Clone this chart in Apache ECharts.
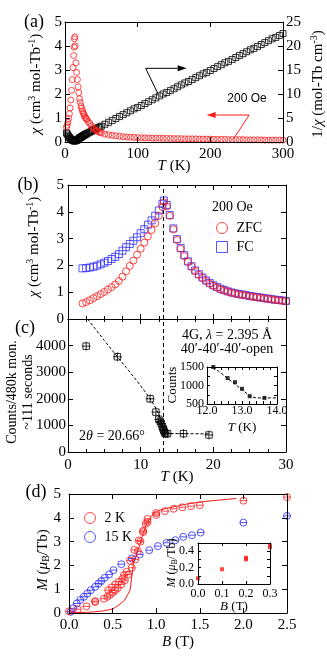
<!DOCTYPE html>
<html><head><meta charset="utf-8">
<script src="https://cdn.jsdelivr.net/npm/echarts@6/dist/echarts.min.js"></script>
<style>html,body{margin:0;padding:0;background:#fff}#c{width:327px;height:659px}</style>
</head><body><div id="c"></div>
<script>
// ---------- Panel (a): chi and 1/chi vs T ----------
const aTemp = [2,3,4,5,6,7,8,9,10,11,
  12,12.5,13,13.5,14,15,16,17,18,19,
  20,21,22,23,24,25,26,27,28,29,
  30,32,34,36,38,40,42,44,46,48,
  50,55,60,65,70,75,80,85,90,95,
  100,105,110,115,120,125,130,135,140,145,
  150,155,160,165,170,175,180,185,190,195,
  200,205,210,215,220,225,230,235,240,245,
  250,255,260,265,270,275,280,285,290,295,300];
const aChi = [0.62,0.70,0.82,0.98,1.18,1.42,1.75,2.15,2.6,3.1,
  3.6,3.95,4.3,4.38,4.0,3.3,2.9,2.6,2.3,2.05,
  1.8,1.65,1.5,1.4,1.3,1.22,1.15,1.08,1.02,0.98,
  0.93,0.85,0.77,0.68,0.6,0.55,0.5,0.46,0.43,0.4,
  0.38,0.33,0.3,0.28,0.26,0.24,0.22,0.21,0.2,0.19,
  0.18,0.18,0.17,0.17,0.16,0.16,0.16,0.15,0.15,0.15,
  0.14,0.14,0.14,0.13,0.13,0.13,0.13,0.12,0.12,0.12,
  0.12,0.11,0.11,0.11,0.11,0.1,0.1,0.1,0.1,0.1,
  0.09,0.09,0.09,0.09,0.09,0.08,0.08,0.08,0.08,0.08,0.08];
const aInvChi = [1.9,1.7,1.4,1.15,0.95,0.75,0.6,0.48,0.38,0.32,
  0.27,0.25,0.23,0.23,0.26,0.3,0.35,0.42,0.55,0.7,
  0.85,0.93,1.01,1.1,1.2,1.3,1.4,1.48,1.57,1.66,
  1.75,1.9,2.05,2.2,2.4,2.55,2.7,2.85,3.0,3.15,
  3.3,3.7,4.1,4.5,4.9,5.3,5.7,6.1,6.5,6.9,
  7.2,7.6,8.0,8.4,8.8,9.2,9.6,10.0,10.3,10.7,
  11.1,11.5,11.9,12.3,12.6,13.0,13.4,13.8,14.2,14.5,
  14.9,15.3,15.7,16.1,16.5,16.8,17.2,17.6,18.0,18.4,
  18.8,19.2,19.5,19.9,20.3,20.7,21.1,21.5,21.8,22.2,22.6];
// annotation arrows (data coordinates): black uses right axis, red uses left axis
const arrowRightT = [128.4, 111, 167.4];
const arrowRightV = [9.9, 15.35, 15.35];
const arrowLeftT = [231.5, 253.5, 194.9];
const arrowLeftV = [0.11, 1.125, 1.125];

// ---------- Panel (b): ZFC / FC ----------
const bTemp = [2.0,2.5,3.0,3.5,4.0,4.5,5.0,5.5,6.0,6.5,
  7.0,7.5,8.0,8.5,9.0,9.5,10.0,10.5,11.0,11.5,
  12.0,12.5,13.0,13.2,13.6,14.0,14.5,15.0,15.5,16.0,
  16.5,17.0,17.5,18.0,18.5,19.0,19.5,20.0,20.5,21.0,
  21.5,22.0,22.5,23.0,23.5,24.0,24.5,25.0,25.5,26.0,
  26.5,27.0,27.5,28.0,28.5,29.0,29.5,30.0];
const bZFC = [0.58,0.63,0.70,0.78,0.85,0.93,1.01,1.10,1.19,1.29,
  1.42,1.58,1.78,1.98,2.18,2.40,2.62,2.85,3.08,3.32,
  3.57,3.85,4.18,4.36,4.20,3.85,3.35,2.95,2.62,2.35,
  2.13,1.95,1.79,1.65,1.53,1.42,1.32,1.24,1.17,1.11,
  1.06,1.02,0.98,0.95,0.92,0.90,0.88,0.85,0.83,0.81,
  0.79,0.77,0.75,0.73,0.71,0.70,0.68,0.66];
const bFC = [1.89,1.90,1.92,1.95,1.99,2.04,2.10,2.16,2.24,2.32,
  2.42,2.55,2.68,2.80,2.92,3.05,3.20,3.35,3.52,3.68,
  3.85,4.05,4.30,4.42,4.25,3.88,3.38,2.98,2.65,2.38,
  2.15,1.97,1.81,1.67,1.55,1.44,1.34,1.26,1.19,1.13,
  1.08,1.03,0.99,0.96,0.93,0.91,0.89,0.86,0.84,0.82,
  0.80,0.78,0.76,0.74,0.72,0.71,0.69,0.67];
const tN = 13.1;

// ---------- Panel (c): neutron counts ----------
const cTemp = [2.5,6.8,11.3,12.1,12.5,12.7,12.85,13.0,13.1,13.2,13.3,13.45,13.7,15.9,19.4];
const cCounts = [3980,3580,2000,1500,1230,1150,1060,950,870,800,720,690,690,690,640];
const cFitT = [2.7,4,5,6,7,8,9,10,11,11.5,12,12.5,13,13.3,19.5];
const cFitC = [5000,4540,4190,3850,3510,3180,2840,2490,2120,1920,1690,1410,1010,700,680];
const ciTemp = [12.18,12.59,12.8,13.0,13.22,13.64];
const ciCounts = [1500,1200,1090,910,710,665];
const ciFitT = [12.18,13.25,13.4,14.0];
const ciFitC = [1500,700,665,665];

// ---------- Panel (d): M vs B ----------
const dUpB = [0.0,0.1,0.2,0.3,0.4,0.44,0.47,0.5,0.53,0.56,0.6,0.64,0.68,0.72,0.76,0.79,0.82,0.85,0.88,0.9,1.0,1.1,1.2,1.3,1.4,1.5,2.0,2.5];
const dUpM = [0.07,0.16,0.28,0.46,0.6,0.68,0.76,0.86,0.95,1.05,1.2,1.38,1.62,1.9,2.25,2.6,3.0,3.4,3.75,3.95,4.12,4.28,4.38,4.44,4.49,4.53,4.72,4.87];
const dDnB = [0.3,0.45,0.49,0.53,0.57,0.61,0.63,0.66,0.7,0.75,0.8,0.85,0.9,1.0];
const dDnM = [0.5,0.96,1.08,1.2,1.31,1.42,1.59,1.73,2.2,2.65,3.05,3.45,3.82,4.2];
const d15B = [0.02,0.05,0.09,0.13,0.17,0.21,0.25,0.3,0.34,0.37,0.41,0.46,0.51,0.6,0.72,0.81,0.92,1.02,1.12,1.22,1.31,1.41,1.51,2.0,2.5];
const d15M = [0.05,0.2,0.4,0.55,0.68,0.82,0.96,1.1,1.24,1.34,1.48,1.62,1.8,2.05,2.29,2.46,2.64,2.81,2.95,3.06,3.2,3.27,3.38,3.8,4.08];
const dFitB = [0,0.1,0.2,0.3,0.4,0.5,0.55,0.6,0.64,0.67,0.7,0.72,0.74,0.78,0.81,0.85,0.89,0.95,1.02,1.1,1.2,1.35,1.5,1.65,1.8,1.92];
const dFitM = [0,0.02,0.03,0.05,0.09,0.17,0.28,0.42,0.55,0.75,0.96,1.52,2.08,2.5,2.85,3.34,3.76,4.1,4.3,4.38,4.46,4.58,4.66,4.72,4.77,4.81];
const diB = [0.0,0.1,0.2,0.2,0.3,0.3];
const diM = [0.07,0.18,0.30,0.32,0.45,0.47];

// ---------- build ----------
const FONT = 'Liberation Serif';
const RED = '#ff1a1a', BLUE = '#2b2bff';
const zip = (a, b) => a.map((v, i) => [v, b[i]]);
const RICH = {i: {fontStyle: 'italic'}};
function ax(gi, pos, min, max, interval, o) {
  o = o || {};
  const a = {
    type: 'value', gridIndex: gi, position: pos, min: min, max: max, interval: interval,
    axisLine: {show: true, onZero: false, lineStyle: {color: '#000', width: 1}},
    axisTick: {show: true, inside: true, length: o.tl || 5, lineStyle: {color: '#000', width: 1}},
    minorTick: {show: !!o.minor, splitNumber: o.minor || 5, length: 3, lineStyle: {color: '#000', width: 1}},
    splitLine: {show: false},
    axisLabel: {show: !!o.labels, color: '#000', fontFamily: FONT, fontSize: o.fs || 15,
      margin: o.margin == null ? 5 : o.margin, formatter: o.fmt || (v => String(v))},
    nameMoveOverlap: false,
    z: 5
  };
  if (o.name) {
    a.name = o.name; a.nameLocation = 'middle'; a.nameGap = o.gap;
    a.nameTextStyle = {color: '#000', fontFamily: FONT, fontSize: o.nfs || 15, rich: RICH};
  }
  return a;
}
const f1 = v => v.toFixed(1);
const grids = [
  {left: 65, top: 22, width: 218, height: 120},
  {left: 68, top: 185, width: 218, height: 134},
  {left: 68, top: 319, width: 218, height: 133},
  {left: 69, top: 494, width: 218, height: 119},
  {left: 207, top: 367, width: 70, height: 37},
  {left: 198, top: 543, width: 72, height: 41}
].map(g => Object.assign({containLabel: false, outerBoundsMode: 'none'}, g));

const xAxis = [
  ax(0, 'bottom', 0, 300, 100, {labels: true, margin: 5, name: '{i|T} (K)', gap: 17}),
  ax(0, 'top', 0, 300, 100, {}),
  ax(1, 'bottom', 0, 30, 10, {minor: 4}),
  ax(1, 'top', 0, 30, 10, {minor: 4}),
  ax(2, 'bottom', 0, 30, 10, {labels: true, minor: 4, margin: 6, name: '{i|T} (K)', gap: 18}),
  ax(2, 'top', 0, 30, 10, {minor: 4}),
  ax(3, 'bottom', 0, 2.5, 0.5, {labels: true, fmt: f1, margin: 5, name: '{i|B} (T)', gap: 22}),
  ax(3, 'top', 0, 2.5, 0.5, {}),
  ax(4, 'bottom', 12, 14, 1, {labels: true, fmt: f1, fs: 12, margin: 1, tl: 3, minor: 5, name: '{i|T} (K)', gap: 17, nfs: 13}),
  ax(4, 'top', 12, 14, 1, {tl: 3, minor: 5}),
  ax(5, 'bottom', 0, 0.3, 0.1, {labels: true, fmt: f1, fs: 12, margin: 4, tl: 3, name: '{i|B} (T)', gap: 16, nfs: 13}),
  ax(5, 'top', 0, 0.3, 0.1, {tl: 3})
];
const yAxis = [
  ax(0, 'left', 0, 5, 1, {labels: true, margin: 3}),
  ax(0, 'right', 0, 25, 5, {labels: true, margin: 3}),
  ax(1, 'left', 0, 5, 1, {labels: true, margin: 4}),
  ax(1, 'right', 0, 5, 1, {}),
  ax(2, 'left', 0, 5000, 1000, {labels: true, margin: 2, fmt: v => (v === 5000 ? '' : String(v))}),
  ax(2, 'right', 0, 5000, 1000, {}),
  ax(3, 'left', 0, 5, 1, {labels: true, margin: 8}),
  ax(3, 'right', 0, 5, 1, {}),
  ax(4, 'left', 500, 1500, 500, {labels: true, fs: 12, margin: 3, tl: 3, minor: 2}),
  ax(4, 'right', 500, 1500, 500, {tl: 3, minor: 2}),
  ax(5, 'left', 0, 0.5, 0.2, {labels: true, fs: 12, margin: 4, tl: 3, fmt: f1, minor: 2}),
  ax(5, 'right', 0, 0.5, 0.2, {tl: 3, minor: 2})
];
const openStyle = c => ({color: 'rgba(0,0,0,0)', borderColor: c, borderWidth: 1});
const SQX = 'path://M2,2H12V12H2Z M7,0V14 M0,7H14';
const CBAR = 'path://M0,5A5,5,0,1,1,10,5A5,5,0,1,1,0,5Z M0,5H10';
const vline = {silent: true, symbol: 'none', label: {show: false},
  lineStyle: {color: '#000', type: [4, 3], width: 1}, data: [{xAxis: tN}]};
const common = {animation: false, silent: true, emphasis: {disabled: true}};

const series = [
  Object.assign({type: 'scatter', name: 'invchi', xAxisIndex: 0, yAxisIndex: 1, symbol: 'rect', symbolSize: 6,
    itemStyle: openStyle('#000'), data: zip(aTemp, aInvChi), clip: false, z: 2}, common),
  Object.assign({type: 'scatter', name: 'chi', xAxisIndex: 0, yAxisIndex: 0, symbol: 'circle', symbolSize: 6,
    itemStyle: openStyle(RED), data: zip(aTemp, aChi), clip: false, z: 3}, common),
  Object.assign({type: 'scatter', name: 'FC', xAxisIndex: 2, yAxisIndex: 2, symbol: 'rect', symbolSize: 7,
    itemStyle: openStyle(BLUE), data: zip(bTemp, bFC), clip: false, z: 2}, common),
  Object.assign({type: 'scatter', name: 'ZFC', xAxisIndex: 2, yAxisIndex: 2, symbol: 'circle', symbolSize: 7,
    itemStyle: openStyle(RED), data: zip(bTemp, bZFC), clip: false, z: 3, markLine: vline}, common),
  Object.assign({type: 'line', name: 'cfit', xAxisIndex: 4, yAxisIndex: 4, showSymbol: false, symbol: 'none',
    lineStyle: {color: '#000', width: 1, type: [3, 2]}, data: zip(cFitT, cFitC), z: 2, markLine: vline}, common),
  Object.assign({type: 'scatter', name: 'counts', xAxisIndex: 4, yAxisIndex: 4, symbol: SQX, symbolSize: 9,
    itemStyle: openStyle('#000'), data: zip(cTemp, cCounts), clip: false, z: 3}, common),
  Object.assign({type: 'line', name: 'cifit', xAxisIndex: 8, yAxisIndex: 8, showSymbol: false, symbol: 'none',
    lineStyle: {color: '#000', width: 1, type: [3, 2]}, data: zip(ciFitT, ciFitC), z: 2}, common),
  Object.assign({type: 'scatter', name: 'cin', xAxisIndex: 8, yAxisIndex: 8, symbol: 'rect', symbolSize: 4,
    itemStyle: {color: '#000'}, data: zip(ciTemp, ciCounts), clip: false, z: 3}, common),
  Object.assign({type: 'line', name: 'dfit', xAxisIndex: 6, yAxisIndex: 6, showSymbol: false, symbol: 'none',
    lineStyle: {color: RED, width: 1}, data: zip(dFitB, dFitM), z: 2}, common),
  Object.assign({type: 'scatter', name: '15 K', xAxisIndex: 6, yAxisIndex: 6, symbol: CBAR, symbolSize: 7,
    itemStyle: openStyle(BLUE), data: zip(d15B, d15M), clip: false, z: 3}, common),
  Object.assign({type: 'scatter', name: '2 K', xAxisIndex: 6, yAxisIndex: 6, symbol: CBAR, symbolSize: 7,
    itemStyle: openStyle(RED), data: zip(dUpB, dUpM), clip: false, z: 3}, common),
  Object.assign({type: 'scatter', name: '2 K', xAxisIndex: 6, yAxisIndex: 6, symbol: CBAR, symbolSize: 7,
    itemStyle: openStyle(RED), data: zip(dDnB, dDnM), clip: false, z: 3}, common),
  Object.assign({type: 'scatter', name: 'din', xAxisIndex: 10, yAxisIndex: 10, symbol: 'rect', symbolSize: 4,
    itemStyle: {color: RED}, data: zip(diB, diM), clip: false, z: 3}, common)
];

const legTxt = {fontFamily: FONT, fontSize: 14, color: '#000', padding: [0, 0, 0, 4]};
const legend = [
  {left: 211, top: 216, orient: 'vertical', itemGap: 5, itemWidth: 11, itemHeight: 11, selectedMode: false,
   textStyle: legTxt,
   data: [{name: 'ZFC', icon: 'circle', itemStyle: openStyle(RED)}, {name: 'FC', icon: 'rect', itemStyle: openStyle(BLUE)}]},
  {left: 79, top: 506, orient: 'vertical', itemGap: 5, itemWidth: 11, itemHeight: 11, selectedMode: false,
   textStyle: legTxt,
   data: [{name: '2 K', icon: 'circle', itemStyle: openStyle(RED)}, {name: '15 K', icon: 'circle', itemStyle: openStyle(BLUE)}]}
];

function txt(x, y, text, size, align, extra, rot) {
  const g = {type: 'text', x: x, y: y, silent: true, z: 10,
    style: Object.assign({text: text, fontFamily: FONT, fontSize: size, fill: '#000',
      textAlign: align || 'left', align: align || 'left', textVerticalAlign: 'middle', verticalAlign: 'middle',
      rich: {
        i: {fontStyle: 'italic', fontFamily: FONT, fontSize: size},
        s: {fontFamily: FONT, fontSize: Math.round(size * 0.68), padding: [0, 0, Math.round(size * 0.5), 0]},
        b: {fontFamily: FONT, fontSize: Math.round(size * 0.68), padding: [Math.round(size * 0.45), 0, 0, 0]}
      }}, extra || {})};
  if (rot) g.rotation = rot;
  return g;
}
const R90 = Math.PI / 2;
const chiName = '{i|χ} (cm{s|3} mol-Tb{s|-1})';
const graphic = [
  txt(34, 22, '(a)', 18, 'center'),
  txt(28, 185, '(b)', 18, 'center'),
  txt(25, 328, '(c)', 18, 'center'),
  txt(36, 492, '(d)', 18, 'center'),
  txt(247, 99, '200 Oe', 12, 'center', {fontFamily: 'Liberation Sans'}),
  txt(212, 207, '200 Oe', 14, 'left'),
  txt(227, 335, '4G, {i|λ} = 2.395 Å', 14, 'center'),
  txt(227, 349, '40′-40′-40′-open', 14, 'center'),
  txt(112, 436, '2{i|θ} = 20.66°', 14, 'center'),
  // rotated axis titles
  txt(36, 84, chiName, 15, 'center', null, R90),
  txt(318, 84, '1/{i|χ} (mol-Tb cm{s|-3})', 15, 'center', null, R90),
  txt(34, 247, chiName, 15, 'center', null, R90),
  txt(20, 392, 'Counts/480k mon.\n~111 seconds', 14, 'center', {lineHeight: 16}, R90),
  txt(43, 560, '{i|M} ({i|μ}{b|B}/Tb)', 15, 'center', null, R90),
  txt(173, 385, 'Counts', 13, 'center', null, R90),
  txt(172, 563, '{i|M} ({i|μ}{b|B}/Tb)', 12, 'center', null, R90)
];

const chart = echarts.init(document.getElementById('c'), null, {renderer: 'canvas'});
chart.setOption({
  animation: false,
  backgroundColor: '#fff',
  textStyle: {fontFamily: FONT},
  grid: grids, xAxis: xAxis, yAxis: yAxis, series: series, legend: legend, graphic: graphic
});

// annotation arrows placed through the axes' own scales
function arrowGraphics(ts, vs, yIdx, color) {
  const p = ts.map((t, i) => chart.convertToPixel({xAxisIndex: 0, yAxisIndex: yIdx}, [t, vs[i]]));
  const a = p[p.length - 2], b = p[p.length - 1];
  const dx = b[0] - a[0], dy = b[1] - a[1], L = Math.hypot(dx, dy) || 1;
  const ux = dx / L, uy = dy / L, hl = 9, hw = 3;
  const bx = b[0] - ux * hl, by = b[1] - uy * hl;
  return [
    {type: 'polyline', silent: true, z: 8, shape: {points: p.slice(0, -1).concat([[bx, by]])},
     style: {stroke: color, lineWidth: 1, fill: null}},
    {type: 'polygon', silent: true, z: 8,
     shape: {points: [b, [bx - uy * hw, by + ux * hw], [bx + uy * hw, by - ux * hw]]},
     style: {fill: color, stroke: null}}
  ];
}
chart.setOption({graphic: graphic.concat(
  arrowGraphics(arrowRightT, arrowRightV, 1, '#000'),
  arrowGraphics(arrowLeftT, arrowLeftV, 0, RED))});
</script></body></html>
